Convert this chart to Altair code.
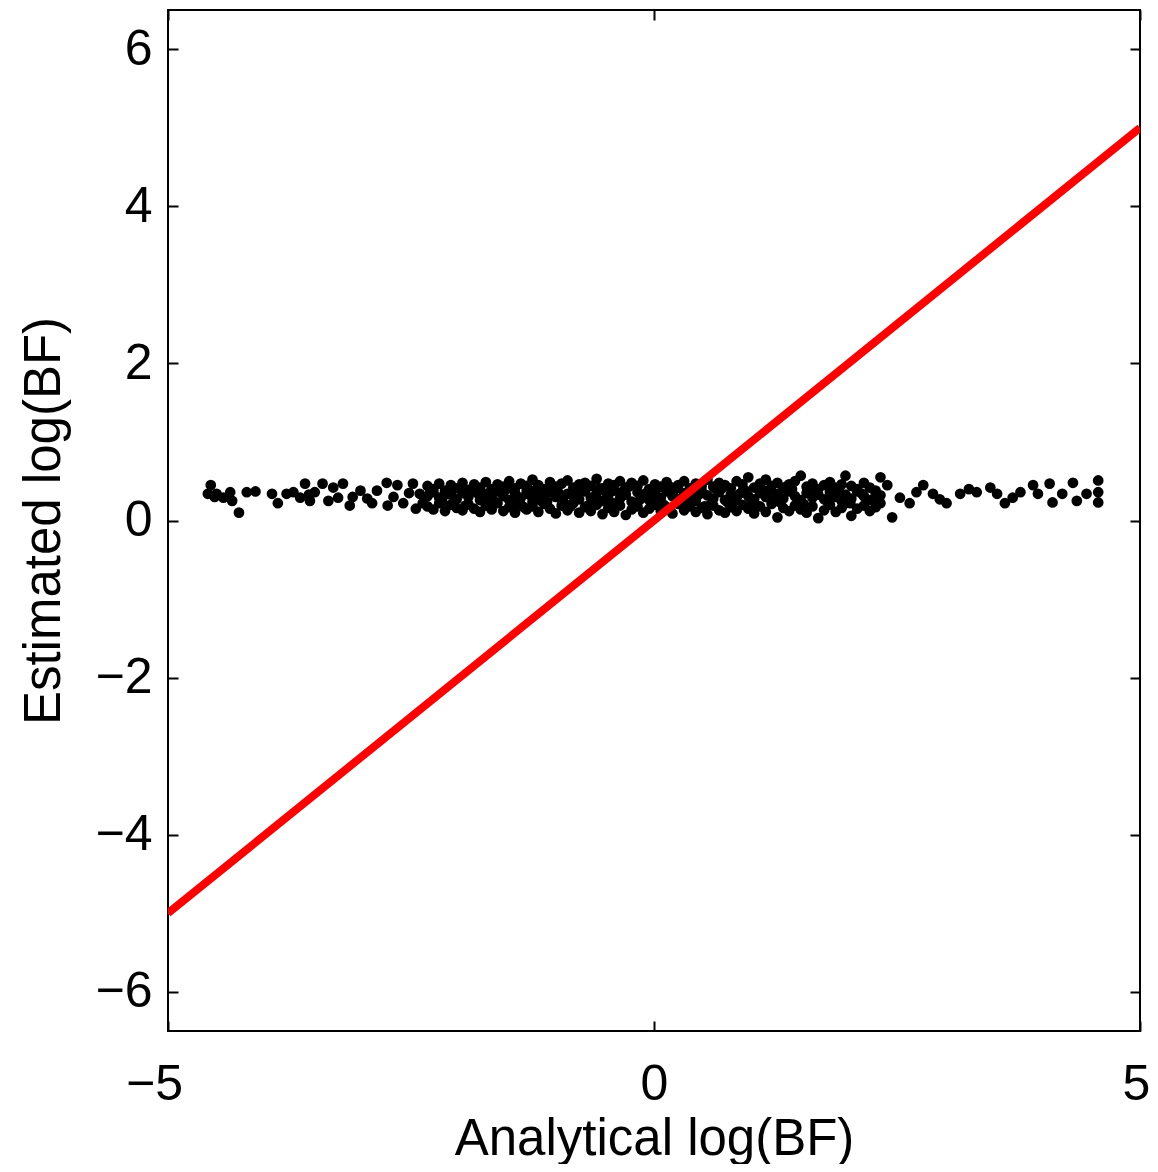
import altair as alt
import pandas as pd

# ---- data ----
left_x = [-4.56, -4.59, -4.50, -4.43, -4.52, -4.36, -4.34, -4.27, -4.19, -4.10,
          -3.93, -3.87, -3.78, -3.71, -3.64, -3.59, -3.55, -3.54, -3.49, -3.41,
          -3.35, -3.30, -3.25, -3.20, -3.13, -3.10, -3.02, -2.95, -2.90, -2.85,
          -2.75, -2.74, -2.68, -2.64, -2.58, -2.52, -2.48, -2.45, -2.41, -2.38]
left_y = [0.45, 0.34, 0.34, 0.29, 0.30, 0.36, 0.25, 0.10, 0.36, 0.37,
          0.34, 0.22, 0.34, 0.36, 0.29, 0.47, 0.33, 0.25, 0.36, 0.47,
          0.25, 0.42, 0.29, 0.47, 0.19, 0.30, 0.38, 0.28, 0.22, 0.38,
          0.48, 0.19, 0.30, 0.45, 0.22, 0.35, 0.47, 0.15, 0.34, 0.22]

mid_x = [-2.33, -2.27, -2.21, -2.15, -2.09, -2.03, -1.97, -1.91, -1.85, -1.79,
         -1.73, -1.67, -1.61, -1.55, -1.49, -1.43, -1.37, -1.31, -1.25, -1.19,
         -1.13, -1.07, -1.01, -0.95, -0.89, -0.83, -0.77, -0.71, -0.65, -0.59,
         -0.53, -0.47, -0.41, -0.35, -0.29, -0.23, -0.17, -0.11, -0.05, 0.01,
         0.07, 0.13, 0.19, 0.25, 0.31, 0.37, 0.43, 0.49, 0.55, 0.61,
         0.67, 0.73, 0.79, 0.85, 0.91, 0.97, 1.03, 1.09, 1.15, 1.21,
         1.27, 1.33, 1.39, 1.45, 1.51, 1.57, 1.63, 1.69, 1.75, 1.81,
         1.87, 1.93, 1.97, 2.03, 2.09, 2.16, 2.22, 2.28, 2.33]
mid_lo = [0.18, 0.14, 0.22, 0.12, 0.20, 0.16, 0.13, 0.21, 0.15, 0.11,
          0.19, 0.14, 0.22, 0.12, 0.17, 0.10, 0.20, 0.14, 0.18, 0.11,
          0.21, 0.15, 0.09, 0.19, 0.13, 0.22, 0.10, 0.17, 0.12, 0.20,
          0.08, 0.16, 0.11, 0.19, 0.07, 0.14, 0.18, 0.10, 0.15, 0.20,
          0.12, 0.17, 0.09, 0.21, 0.13, 0.18, 0.11, 0.16, 0.08, 0.19,
          0.13, 0.10, 0.17, 0.12, 0.20, 0.15, 0.09, 0.18, 0.11, 0.21,
          0.04, 0.16, 0.12, 0.19, 0.14, 0.10, 0.18, 0.03, 0.13, 0.20,
          0.11, 0.16, 0.22, 0.06, 0.15, 0.19, 0.12, 0.17, 0.22]
mid_md = [0.31, 0.36, 0.29, 0.38, 0.33, 0.27, 0.35, 0.30, 0.39, 0.26,
          0.34, 0.29, 0.37, 0.31, 0.26, 0.35, 0.29, 0.38, 0.24, 0.33,
          0.28, 0.36, 0.30, 0.26, 0.34, 0.31, 0.27, 0.37, 0.29, 0.35,
          0.25, 0.32, 0.38, 0.28, 0.33, 0.24, 0.36, 0.30, 0.26, 0.34,
          0.29, 0.37, 0.31, 0.27, 0.35, 0.30, 0.25, 0.38, 0.32, 0.28,
          0.36, 0.26, 0.33, 0.29, 0.37, 0.31, 0.27, 0.35, 0.30, 0.25,
          0.34, 0.28, 0.37, 0.31, 0.26, 0.35, 0.29, 0.33, 0.27, 0.36,
          0.30, 0.25, 0.33, 0.28, 0.37, 0.31, 0.26, 0.35, 0.32]
mid_hi = [0.44, 0.40, 0.47, 0.33, 0.45, 0.41, 0.48, 0.39, 0.46, 0.42,
          0.49, 0.40, 0.46, 0.43, 0.50, 0.41, 0.47, 0.44, 0.52, 0.45,
          0.40, 0.49, 0.43, 0.47, 0.51, 0.42, 0.46, 0.48, 0.44, 0.53,
          0.41, 0.47, 0.45, 0.50, 0.42, 0.48, 0.44, 0.51, 0.40, 0.46,
          0.43, 0.49, 0.42, 0.45, 0.50, 0.41, 0.47, 0.44, 0.52, 0.43,
          0.48, 0.45, 0.41, 0.50, 0.46, 0.55, 0.42, 0.47, 0.52, 0.44,
          0.48, 0.41, 0.46, 0.50, 0.57, 0.43, 0.47, 0.40, 0.45, 0.49,
          0.42, 0.46, 0.57, 0.44, 0.40, 0.48, 0.42, 0.38, 0.55]

core_x = [-1.64, -1.52, -1.40, -1.28, -1.16, -1.04, -0.92, -0.80, -0.68, -0.56,
          -0.44, -0.32, -0.20, -0.08, 0.04, 0.16, 0.28, 0.40, 0.52, 0.64,
          0.76, 0.88, 1.00, 1.12, 1.24, 1.36, 1.48, 1.60]
core_y = [0.24, 0.40, 0.21, 0.33, 0.25, 0.39, 0.22, 0.36, 0.19, 0.41,
          0.23, 0.37, 0.20, 0.35, 0.24, 0.42, 0.22, 0.36, 0.18, 0.40,
          0.23, 0.34, 0.21, 0.39, 0.25, 0.43, 0.20, 0.37]

fill_x = [-2.30, -2.18, -2.06, -1.94, -1.82, -1.70, -1.58, -1.46, -1.34, -1.22,
          -1.10, -0.98, -0.86, -0.74, -0.62, -0.50, -0.38, -0.26, -0.14, -0.02,
          0.10, 0.22, 0.34, 0.46, 0.58, 0.70, 0.82, 0.94, 1.06, 1.18,
          1.30, 1.42, 1.54, 1.66, 1.78, 1.90, 2.02, 2.14, 2.26]
fill_y = [0.38, 0.24, 0.41, 0.19, 0.35, 0.23, 0.42, 0.27, 0.17, 0.39,
          0.24, 0.35, 0.18, 0.41, 0.26, 0.37, 0.21, 0.43, 0.27, 0.38,
          0.20, 0.40, 0.26, 0.33, 0.20, 0.41, 0.24, 0.38, 0.19, 0.36,
          0.23, 0.40, 0.21, 0.37, 0.25, 0.39, 0.22, 0.34, 0.27]

right_x = [2.40, 2.45, 2.53, 2.63, 2.70, 2.77, 2.87, 2.94, 3.01, 3.15,
           3.24, 3.32, 3.46, 3.53, 3.61, 3.69, 3.77, 3.90, 3.95, 4.07,
           4.10, 4.20, 4.31, 4.35, 4.45, 4.57, 4.57, 4.57]
right_y = [0.45, 0.04, 0.29, 0.22, 0.36, 0.45, 0.34, 0.27, 0.22, 0.34,
           0.40, 0.36, 0.42, 0.34, 0.22, 0.29, 0.36, 0.45, 0.34, 0.47,
           0.23, 0.34, 0.48, 0.25, 0.34, 0.51, 0.23, 0.36]

line_x = [-5, 5]
line_y = [-5, 5]

x_ticks = [-5, 0, 5]
y_ticks = [-6, -4, -2, 0, 2, 4, 6]

# ---- build tables ----
xs = left_x + mid_x * 3 + core_x + fill_x + right_x
ys = left_y + mid_lo + mid_md + mid_hi + core_y + fill_y + right_y
pts = pd.DataFrame({"x": xs, "y": ys})
diag = pd.DataFrame({"x": line_x, "y": line_y})

FONT = "Liberation Sans"
xscale = alt.Scale(domain=[-5, 5], nice=False, zero=False)
yscale = alt.Scale(domain=[-6.5, 6.5], nice=False, zero=False)

common = dict(offset=-10, tickSize=10, tickWidth=2, tickColor="black",
              domain=False, grid=False, labelFlush=False, labelOverlap=False)

x_bottom = alt.Axis(orient="bottom", values=x_ticks, labelFontSize=50, labelFont=FONT,
                    labelColor="black", labelPadding=28,
                    labelOffset={"condition": [{"test": "datum.value < 0", "value": -14},
                                               {"test": "datum.value > 4", "value": -4}],
                                 "value": 0},
                    title="Analytical log(BF)", titleFont=FONT, titleFontSize=51,
                    titleFontWeight="normal", titleColor="black", titlePadding=5, **common)
y_left = alt.Axis(orient="left", values=y_ticks, labelFontSize=50, labelFont=FONT,
                  labelColor="black", labelPadding=16,
                  title="Estimated log(BF)", titleFont=FONT, titleFontSize=51,
                  titleFontWeight="normal", titleColor="black", titlePadding=24, **common)
x_top = alt.Axis(orient="top", values=x_ticks, labels=False, title=None, **common)
y_right = alt.Axis(orient="right", values=y_ticks, labels=False, title=None, **common)

points = alt.Chart(pts).mark_circle(size=115, color="black", opacity=1).encode(
    x=alt.X("x:Q", scale=xscale, axis=x_bottom),
    y=alt.Y("y:Q", scale=yscale, axis=y_left),
)

red = alt.Chart(diag).mark_line(color="#ff0000", strokeWidth=8, clip=True, strokeCap="butt").encode(
    x=alt.X("x:Q", scale=xscale, axis=x_top),
    y=alt.Y("y:Q", scale=yscale, axis=y_right),
)

chart = alt.layer(points, red).resolve_axis(x="independent", y="independent").properties(
    width=972, height=1021,
    autosize=alt.AutoSizeParams(type="none"),
    padding={"left": 160, "top": 2, "right": 10, "bottom": 133},
).configure_view(stroke="black", strokeWidth=2)

chart.save("out.html", embed_options={"renderer": "svg", "actions": False})
